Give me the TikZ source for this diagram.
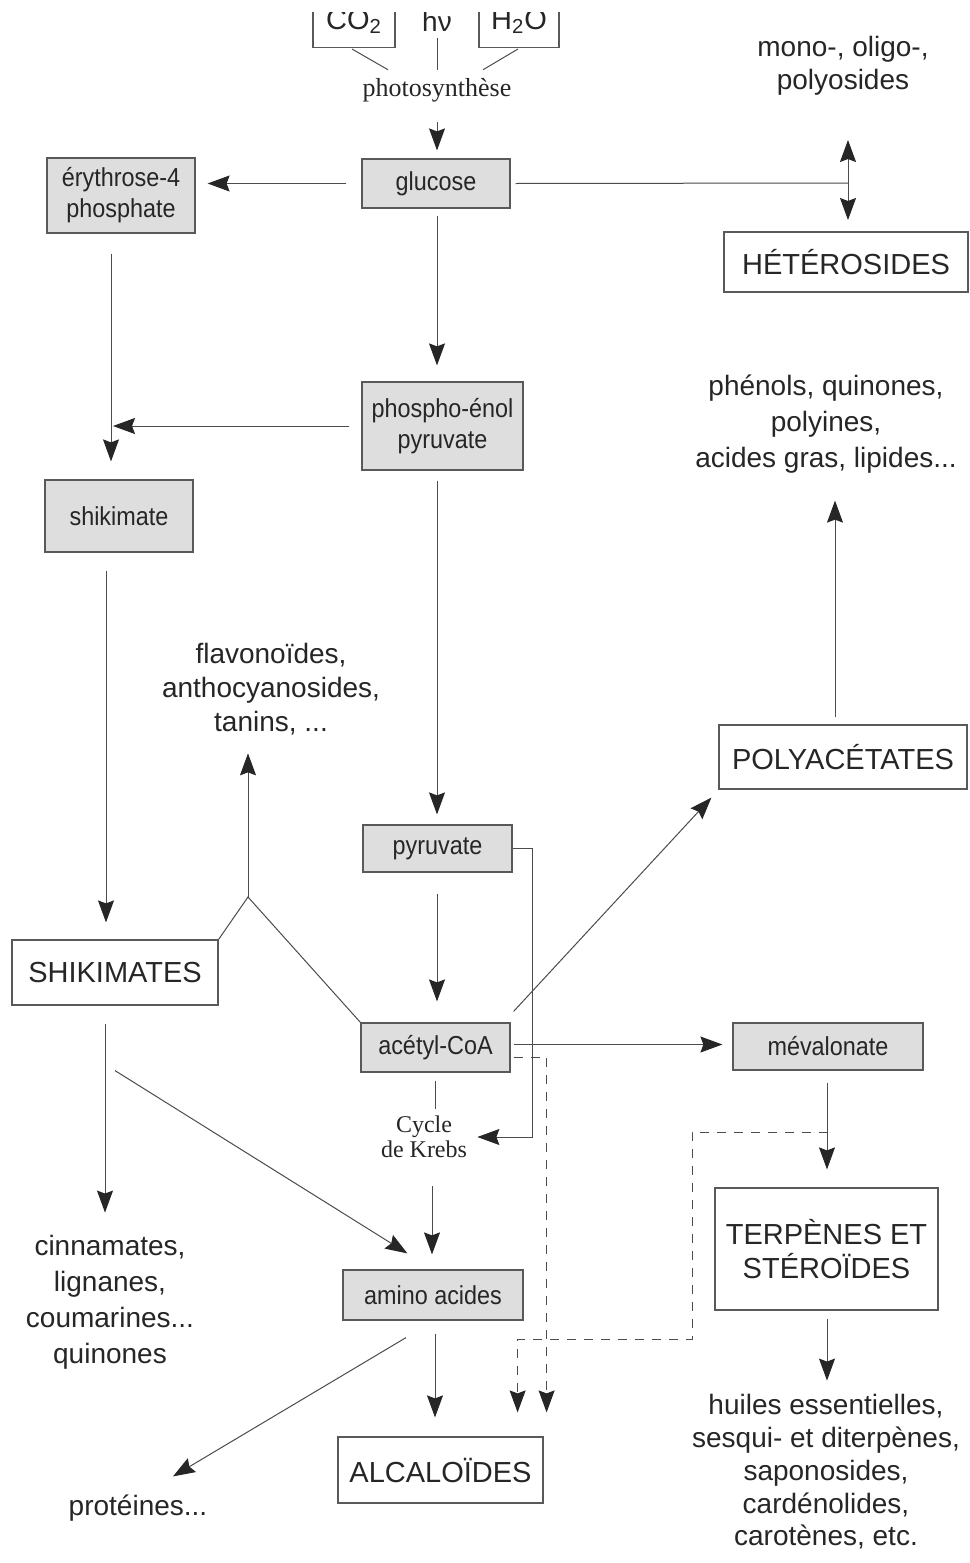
\documentclass[tikz,border=0pt]{standalone}
\usepackage{fontspec}
\setmainfont{Liberation Sans}
\newfontfamily\seriffont{Liberation Serif}
\newfontfamily\narrowfont[FakeStretch=0.9]{Liberation Sans}
\usetikzlibrary{arrows.meta,calc}
\begin{document}
\begin{tikzpicture}[x=0.5pt,y=0.5pt,
  gbox/.style={draw=black!65, fill=black!13, line width=0.6pt, inner sep=0pt, align=center, text=black!85, font=\narrowfont\fontsize{13}{15.5}\selectfont},
  wbox/.style={draw=black!65, fill=white, line width=0.6pt, inner sep=0pt, align=center, text=black!85, font=\fontsize{14.5}{17}\selectfont},
  lbl/.style={inner sep=0pt, align=center, text=black!85, font=\fontsize{14}{16.5}\selectfont},
  ser/.style={inner sep=0pt, align=center, text=black!85},
  ln/.style={draw=black!70, line width=0.5pt},
  arr/.style={ln, -{Stealth[length=11pt,width=8pt,inset=1.5pt,color=black!85]}},
  dsh/.style={dash pattern=on 4.5pt off 4pt}]
\useasboundingbox (0,0) rectangle (969,-1563);
\fill[white] (0,0) rectangle (969,-1563);
\clip (0,-12) rectangle (969,-1563);

% grey boxes
\node[gbox, minimum width=74pt, minimum height=24.5pt] (glu) at (436,-183.5) {glucose};
\node[gbox, minimum width=74pt, minimum height=37.5pt] (ery) at (121,-195.5) {érythrose-4\\phosphate};
\node[gbox, minimum width=74pt, minimum height=36pt] (shik) at (119,-516) {shikimate};
\node[gbox, minimum width=80.5pt, minimum height=44pt] (pep) at (442.5,-426) {phospho-énol\\pyruvate};
\node[gbox, minimum width=74.5pt, minimum height=23.5pt] (pyr) at (437.5,-848.5) {pyruvate};
\node[gbox, minimum width=74.5pt, minimum height=24.5pt] (ace) at (435.5,-1047.5) {acétyl-CoA};
\node[gbox, minimum width=95pt, minimum height=23.5pt] (mev) at (828,-1046.5) {mévalonate};
\node[gbox, minimum width=90pt, minimum height=25pt] (amino) at (433,-1295) {amino acides};

% white boxes
\node[wbox, minimum width=103pt, minimum height=32.5pt] (SHIK) at (115,-972.5) {SHIKIMATES};
\node[wbox, minimum width=122pt, minimum height=30pt] (het) at (846,-262) {HÉTÉROSIDES};
\node[wbox, minimum width=124pt, minimum height=32pt] (poly) at (843,-757) {POLYACÉTATES};
\node[wbox, minimum width=111.5pt, minimum height=61pt] (terp) at (826.5,-1249) {TERPÈNES ET\\STÉROÏDES};
\node[wbox, minimum width=102.5pt, minimum height=33pt] (alc) at (440.5,-1470) {ALCALOÏDES};
\node[wbox, minimum width=41pt, minimum height=26pt, anchor=south] (co2) at (354,-48) {CO\textsubscript{2}};
\node[wbox, minimum width=40pt, minimum height=26pt, anchor=south] (h2o) at (519,-48) {H\textsubscript{2}O};
\node[lbl] (hv) at (437,-21) {hν};

% serif labels
\node[ser, font=\seriffont\fontsize{13}{15}\selectfont] (photo) at (437,-90) {photosynthèse};
\node[ser, font=\seriffont\fontsize{12}{12.5}\selectfont] (krebs) at (424,-1137) {Cycle\\de Krebs};

% free labels
\node[lbl] (mono) at (843,-66) {mono-, oligo-,\\polyosides};
\node[lbl, font=\fontsize{14}{18}\selectfont] (phen) at (826,-424) {phénols, quinones,\\polyines,\\acides gras, lipides...};
\node[lbl, font=\fontsize{14}{17}\selectfont] (flav) at (271,-689) {flavonoïdes,\\anthocyanosides,\\tanins, ...};
\node[lbl, font=\fontsize{14}{18}\selectfont] (cinn) at (110,-1302) {cinnamates,\\lignanes,\\coumarines...\\quinones};
\node[lbl] (prot) at (138,-1508) {protéines...};
\node[lbl, font=\fontsize{14}{16.4}\selectfont] (huil) at (826,-1472) {huiles essentielles,\\sesqui- et diterpènes,\\saponosides,\\cardénolides,\\carotènes, etc.};

% coordinates
\coordinate (hj) at (848,-183);
\coordinate (apex) at (248,-897);
\coordinate (d1) at (692,-1339);

% photosynthesis
\draw[ln] ($(co2.south)+(-2,-1)$) -- ($(photo.north)+(-49,8)$);
\draw[ln] ($(h2o.south)+(-1,-1)$) -- ($(photo.north)+(46,8)$);
\draw[ln] ($(hv.south)+(0,-6)$) -- ($(photo.north)+(0,8)$);
\draw[arr] ($(photo.south)+(0,-20)$) -- ($(glu.north)+(1,8)$);

% glucose
\draw[arr] ($(glu.west)+(-15,0)$) -- ($(glu.west -| ery.east)+(12,0)$);
\draw[ln] ($(glu.east)+(5,0)$) -- (hj);
\draw[arr] (hj) -- ($(hj)+(0,43)$);
\draw[arr] (hj) -- ($(hj)+(0,-37)$);
\draw[arr] ($(glu.south)+(1,-7)$) -- ($(pep.north)+(-5.5,16)$);

% shikimate branch
\draw[arr] ($(ery.south)+(-10,-20)$) -- ($(shik.north)+(-8,18)$);
\draw[arr] ($(pep.west)+(-12,0)$) -- ($(pep.west -| shik.north)+(-6,0)$);
\draw[arr] ($(shik.south)+(-13,-18)$) -- ($(SHIK.north)+(-9,17)$);
\draw[arr] ($(SHIK.south)+(-10,-18)$) -- ($(cinn.north)+(-5,22)$);
\draw[arr] ($(SHIK.south)+(0,-65)$) -- ($(amino.north west)+(65,16)$);
\draw[ln] (SHIK.north east) -- (apex) -- (ace.north west);
\draw[arr] (apex) -- ($(flav.south)+(-23,-18)$);

% main axis
\draw[arr] ($(pep.south)+(-5.5,-10)$) -- ($(pyr.north)+(-0.5,10)$);
\draw[arr] ($(pyr.south)+(-0.5,-21)$) -- ($(ace.north)+(1.5,21)$);
\draw[arr] (pyr.east) -| ($(krebs.east)+(65,0)$) -- ($(krebs.east)+(10,0)$);
\draw[ln] ($(ace.south)+(-0.5,-8)$) -- ($(ace.south)+(-0.5,-36)$);
\draw[arr] ($(krebs.south)+(8,-28)$) -- ($(amino.north)+(-1,15)$);
\draw[arr] ($(amino.south)+(2,-13)$) -- ($(alc.north)+(-5.5,19)$);
\draw[arr] ($(amino.south)+(-27,-17)$) -- ($(prot.north)+(35,18)$);

% acetyl-CoA
\draw[arr] ($(ace.north east)+(3,11)$) -- ($(poly.south west)+(-7,-8)$);
\draw[arr] ($(poly.north)+(-8,7)$) -- ($(phen.south)+(9,-27)$);
\draw[arr] ($(ace.east)+(3,3)$) -- ($(mev.west)+(-10,2)$);
\draw[arr, dsh] ($(ace.east)+(3,-9.5)$) -| ($(alc.north east)+(3,24)$);

% mevalonate
\draw[arr] ($(mev.south)+(-1,-12)$) -- ($(terp.north)+(0.5,18)$);
\draw[arr] ($(terp.south)+(0.5,-8)$) -- ($(huil.north)+(1,13.5)$);
\draw[arr, dsh] ($(terp.north)+(1.5,55)$) -| (d1) -| ($(alc.north east)+(-26,24)$);
\end{tikzpicture}
\end{document}
